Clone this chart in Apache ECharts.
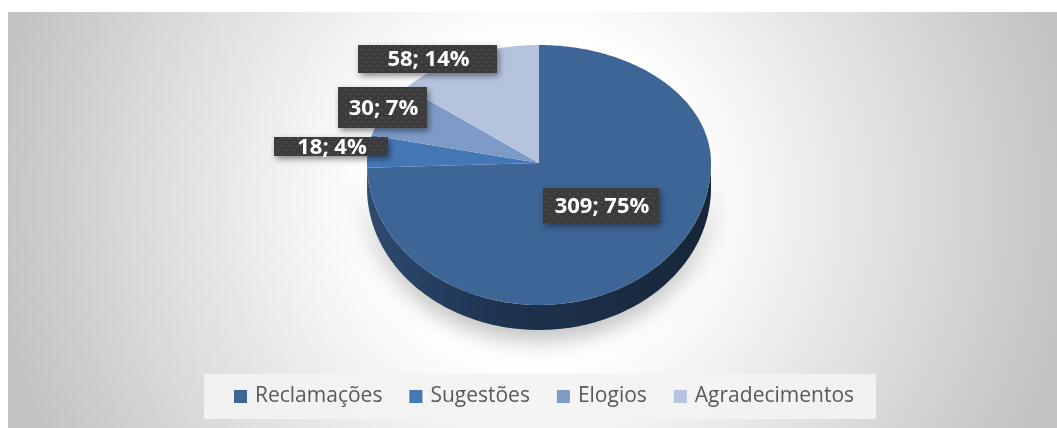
<!DOCTYPE html>
<html><head><meta charset="utf-8">
<script src="https://cdn.jsdelivr.net/npm/echarts@6/dist/echarts.min.js"></script>
<style>html,body{margin:0;padding:0;background:#fff}#c{width:1057px;height:428px}</style>
</head><body><div id="c"></div>
<script>
// ---- data ----
const categories = ['Reclamações', 'Sugestões', 'Elogios', 'Agradecimentos'];
const values = [309, 18, 30, 58];
const percents = [75, 4, 7, 14];

// ---- styles / layout ----
const colors = ['#3d6595', '#4677b5', '#7e9bc8', '#b5c3de'];
const G = { cx: 539, cy: 163, rx: 172, ryT: 118, ryB: 142, depth: 25 };
const labelBoxes = [
  { dx: 62, dy: 42.5, w: 116, h: 35 },
  { dx: -208, dy: -16.5, w: 114, h: 19 },
  { dx: -156.5, dy: -55.5, w: 89, h: 41 },
  { dx: -111.5, dy: -104, w: 139, h: 28 }
];

const TOTAL = values.reduce((a, b) => a + b, 0);

const tile = document.createElement('canvas');
tile.width = 8; tile.height = 8;
const tg = tile.getContext('2d');
tg.fillStyle = '#3b3b3b'; tg.fillRect(0, 0, 8, 8);
tg.fillStyle = '#4b4b4b'; tg.fillRect(1, 1, 2, 2); tg.fillRect(5, 5, 2, 2);

function pt(t, dy) {
  const c = Math.cos(t);
  return [G.cx + G.rx * Math.sin(t), G.cy - c * (c > 0 ? G.ryT : G.ryB) + (dy || 0)];
}
function arc(a0, a1, dy) {
  const n = Math.max(2, Math.ceil((a1 - a0) / (Math.PI / 180)));
  const out = [];
  for (let k = 0; k <= n; k++) out.push(pt(a0 + (a1 - a0) * k / n, dy));
  return out;
}

function makeRender(i) {
  return function (params, api) {
    const v = api.value(0);
    let before = 0;
    for (let k = 0; k < i; k++) before += values[k];
    const a0 = before / TOTAL * 2 * Math.PI;
    const a1 = (before + v) / TOTAL * 2 * Math.PI;
    const children = [];
    const s0 = Math.max(a0, Math.PI / 2), s1 = Math.min(a1, 1.5 * Math.PI);
    if (s1 > s0) {
      const top = arc(s0, s1, 0), bot = arc(s0, s1, G.depth).reverse();
      children.push({
        type: 'polygon', shape: { points: top.concat(bot) },
        style: {
          fill: new echarts.graphic.LinearGradient(0, 0, 1, 0, [
            { offset: 0, color: '#2e4b70' },
            { offset: 0.35, color: '#1f3452' },
            { offset: 1, color: '#172638' }
          ]),
          shadowBlur: 24, shadowColor: 'rgba(0,0,0,0.3)', shadowOffsetY: 8
        }
      });
    }
    children.push({
      type: 'polygon', shape: { points: [[G.cx, G.cy]].concat(arc(a0, a1, 0)) },
      style: { fill: colors[i] }
    });
    const b = labelBoxes[i];
    const lx = G.cx + b.dx, ly = G.cy + b.dy;
    children.push({
      type: 'rect', z2: 100,
      shape: { x: lx - b.w / 2, y: ly - b.h / 2, width: b.w, height: b.h },
      style: {
        fill: { image: tile, repeat: 'repeat' },
        shadowBlur: 6, shadowColor: 'rgba(0,0,0,0.45)', shadowOffsetX: 2, shadowOffsetY: 3
      }
    });
    children.push({
      type: 'text', z2: 101,
      style: {
        text: values[i] + '; ' + percents[i] + '%',
        x: lx + 1, y: ly + 1, align: 'center', verticalAlign: 'middle',
        fill: '#ffffff', font: 'bold 22px "Open Sans"'
      }
    });
    return { type: 'group', children };
  };
}

const chart = echarts.init(document.getElementById('c'), null, { renderer: 'canvas' });
chart.setOption({
  animation: false,
  graphic: [{
    type: 'rect', z: -10, silent: true,
    shape: { x: 8, y: 12, width: 1049, height: 416 },
    style: {
      fill: new echarts.graphic.RadialGradient(0.5, 0.45, 1.3, [
        { offset: 0, color: '#ffffff' },
        { offset: 0.3, color: '#ffffff' },
        { offset: 1, color: '#c3c3c3' }
      ])
    }
  }],
  legend: {
    data: categories, left: 204, top: 374,
    padding: [12, 22, 12, 30], backgroundColor: 'rgba(243,243,243,0.9)',
    itemWidth: 13, itemHeight: 13, itemGap: 27, icon: 'rect',
    textStyle: { fontFamily: 'Open Sans', fontSize: 21, color: '#595959', padding: [0, 0, 0, 3] }
  },
  series: categories.map((name, i) => ({
    type: 'custom', name, coordinateSystem: 'none',
    data: [values[i]], itemStyle: { color: colors[i] },
    renderItem: makeRender(i)
  }))
});
</script></body></html>
